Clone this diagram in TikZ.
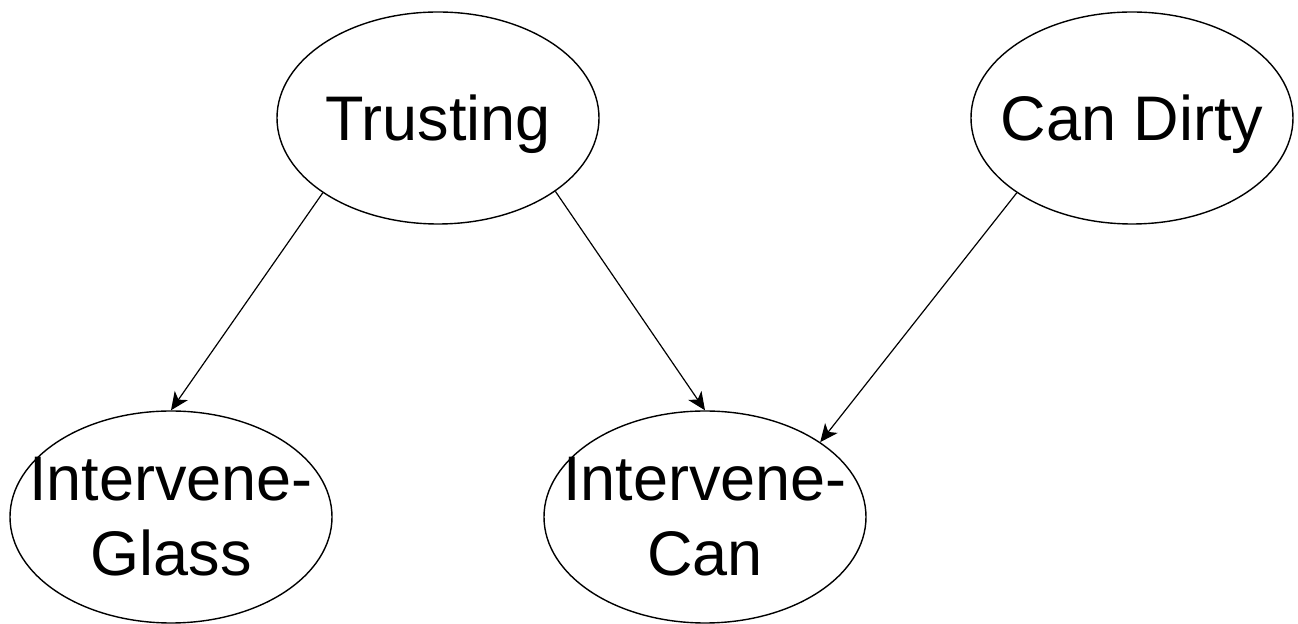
\documentclass[tikz,border=0pt]{standalone}
\usepackage{fontspec}
\setmainfont{Liberation Sans}
\usepackage{tikz}
\usetikzlibrary{arrows.meta}
\usetikzlibrary{shapes.geometric}
\tikzset{var/.style={draw,ellipse,line width=0.7pt,minimum width=161pt,minimum height=106pt,inner xsep=-15pt,inner ysep=0pt,align=center,font=\fontsize{31.5}{37.5}\selectfont}}
\tikzset{edge/.style={line width=0.6pt,-{Stealth[length=9pt,width=8pt,inset=2.5pt]}}}

\begin{document}
\begin{tikzpicture}[x=0.5pt,y=-0.5pt]
	\useasboundingbox (0,0) rectangle (1298,624);
	\node[var,text depth=0pt] (trust) at (438,118) {Trusting};
	\node[var,text depth=0pt] (dirty) at (1132,118) {Can Dirty};
	\node[var] (glass) at (171,517) {Intervene-\\Glass};
	\node[var] (can) at (705,517) {Intervene-\\Can};
	\draw[edge] (trust.213) -- (glass.north);
	\draw[edge] (trust.-32) -- (can.north);
	\draw[edge] (dirty.213) -- (can.33);
\end{tikzpicture}
\end{document}
